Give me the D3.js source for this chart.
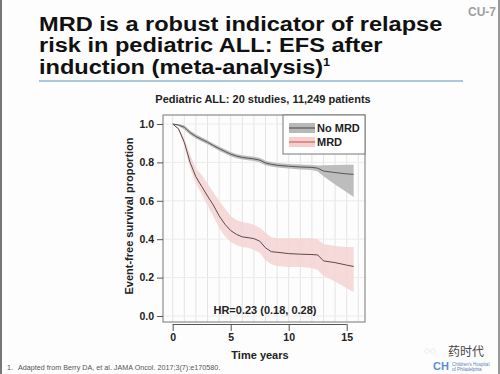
<!DOCTYPE html>
<html>
<head>
<meta charset="utf-8">
<script src="https://cdn.jsdelivr.net/npm/d3@7"></script>
<style>
  html, body { margin: 0; padding: 0; background: #fdfdfd; }
  svg { display: block; font-family: "Liberation Sans", Arial, sans-serif; }
</style>
</head>
<body>
<svg id="chart" width="500" height="374"></svg>
<script>
// time points (years) and survival estimates
const years    = [0, 0.5, 1, 1.5, 2, 2.5, 3, 3.5, 4, 4.5, 5, 5.5, 6, 6.5, 7, 7.5, 8, 8.5, 9, 10, 11, 12, 12.5, 13, 14, 15, 15.6];
const noMrd    = [1.0, 0.995, 0.983, 0.955, 0.935, 0.92, 0.905, 0.888, 0.872, 0.857, 0.843, 0.833, 0.826, 0.822, 0.818, 0.812, 0.797, 0.79, 0.785, 0.78, 0.776, 0.774, 0.77, 0.755, 0.747, 0.74, 0.738];
const noMrdHi  = [1.0, 0.999, 0.993, 0.966, 0.946, 0.931, 0.916, 0.899, 0.883, 0.868, 0.854, 0.844, 0.837, 0.833, 0.829, 0.824, 0.809, 0.802, 0.797, 0.792, 0.789, 0.787, 0.784, 0.785, 0.786, 0.788, 0.788];
const noMrdLo  = [1.0, 0.99, 0.972, 0.944, 0.924, 0.909, 0.894, 0.877, 0.861, 0.846, 0.832, 0.822, 0.815, 0.811, 0.807, 0.8, 0.785, 0.778, 0.773, 0.768, 0.763, 0.76, 0.752, 0.728, 0.685, 0.645, 0.62];
const mrd      = [1.0, 0.975, 0.905, 0.8, 0.725, 0.675, 0.625, 0.578, 0.522, 0.478, 0.445, 0.425, 0.412, 0.408, 0.403, 0.39, 0.355, 0.335, 0.332, 0.325, 0.322, 0.32, 0.318, 0.287, 0.278, 0.265, 0.258];
const mrdHi    = [1.0, 0.98, 0.925, 0.84, 0.77, 0.735, 0.69, 0.645, 0.6, 0.56, 0.52, 0.5, 0.49, 0.485, 0.475, 0.46, 0.435, 0.41, 0.405, 0.405, 0.405, 0.405, 0.4, 0.375, 0.365, 0.36, 0.36];
const mrdLo    = [1.0, 0.97, 0.885, 0.77, 0.69, 0.635, 0.575, 0.52, 0.46, 0.415, 0.385, 0.37, 0.36, 0.355, 0.345, 0.33, 0.29, 0.27, 0.26, 0.255, 0.255, 0.25, 0.24, 0.21, 0.18, 0.145, 0.125];
const xTicks   = [0, 5, 10, 15];
const yTicks   = [0, 0.2, 0.4, 0.6, 0.8, 1.0];
const gridYears = d3.range(0, 17);
const legendLabels = ["No MRD", "MRD"];

const svg = d3.select("#chart");

// slide frame
svg.append("line").attr("x1", 1).attr("x2", 1).attr("y1", 0).attr("y2", 374).attr("stroke", "#777").attr("stroke-width", 2);
svg.append("line").attr("x1", 499).attr("x2", 499).attr("y1", 0).attr("y2", 374).attr("stroke", "#999").attr("stroke-width", 2);

// title block (slide font is wider than Arial, so stretch it a bit)
svg.append("text").attr("x", 496).attr("y", 16).attr("text-anchor", "end")
  .attr("font-size", 12).attr("font-weight", "bold").attr("fill", "#a0a0a0").text("CU-7");

const title = svg.append("text").attr("transform", "translate(39,0) scale(1.15,1)")
  .attr("font-size", 20.5).attr("font-weight", "bold").attr("fill", "#111");
["MRD is a robust indicator of relapse", "risk in pediatric ALL: EFS after"].forEach((t, i) => {
  title.append("tspan").attr("x", 0).attr("y", 31 + i * 21.5).text(t);
});
title.append("tspan").attr("x", 0).attr("y", 74).text("induction (meta-analysis)");
title.append("tspan").attr("dy", -8).attr("font-size", 11).text("1");

svg.append("line").attr("x1", 39).attr("x2", 463).attr("y1", 81).attr("y2", 81)
  .attr("stroke", "#5a8fc4").attr("stroke-width", 1.2);

svg.append("text").attr("x", 263).attr("y", 103).attr("text-anchor", "middle")
  .attr("font-size", 11).attr("font-weight", "bold").attr("fill", "#222")
  .text("Pediatric ALL: 20 studies, 11,249 patients");

// plot area
const box = { left: 163, right: 365, top: 115, bottom: 322 };
const x = d3.scaleLinear().domain([0, 15]).range([172.7, 346.7]);
const y = d3.scaleLinear().domain([0, 1]).range([316, 124]);

const g = svg.append("g");

// grid
g.selectAll(".vgrid").data(gridYears).join("line")
  .attr("x1", d => x(d)).attr("x2", d => x(d))
  .attr("y1", box.top).attr("y2", box.bottom)
  .attr("stroke", "#e4e4e4").attr("stroke-width", 1);
g.selectAll(".hgrid").data(yTicks).join("line")
  .attr("x1", box.left).attr("x2", box.right)
  .attr("y1", d => y(d)).attr("y2", d => y(d))
  .attr("stroke", "#ececec").attr("stroke-width", 1);

const pts = (lo, hi) => years.map((t, i) => ({ t, lo: lo[i], hi: hi[i] }));
const area = d3.area().x(d => x(d.t)).y0(d => y(d.lo)).y1(d => y(d.hi));
const line = d3.line().x((d, i) => x(years[i])).y(d => y(d));

g.append("path").datum(pts(mrdLo, mrdHi)).attr("d", area).attr("fill", "#f5d3d3").attr("opacity", 0.85);
g.append("path").datum(pts(noMrdLo, noMrdHi)).attr("d", area).attr("fill", "#bdbdbd");
g.append("path").datum(mrd).attr("d", line).attr("fill", "none").attr("stroke", "#5a4a4a").attr("stroke-width", 1);
g.append("path").datum(noMrd).attr("d", line).attr("fill", "none").attr("stroke", "#555").attr("stroke-width", 1);

// box
g.append("rect").attr("x", box.left).attr("y", box.top)
  .attr("width", box.right - box.left).attr("height", box.bottom - box.top)
  .attr("fill", "none").attr("stroke", "#777").attr("stroke-width", 1);

// axes
const yAxis = d3.axisLeft(y).tickValues(yTicks).tickFormat(d3.format(".1f")).tickSize(6).tickPadding(3);
const ya = svg.append("g").attr("transform", `translate(${box.left},0)`).call(yAxis);
ya.select(".domain").remove();

const xAxis = d3.axisBottom(x).tickValues(xTicks).tickSize(7).tickPadding(3);
const xa = svg.append("g").attr("transform", "translate(0,324)").call(xAxis);
xa.select(".domain").attr("d", `M${x(0)},0.5H${x(15)}`);

[ya, xa].forEach(a => {
  a.selectAll("line, .domain").attr("stroke", "#555");
  a.selectAll("text").attr("font-size", 10.5).attr("font-weight", "bold").attr("fill", "#222")
    .attr("font-family", "Liberation Sans, Arial, sans-serif");
});

svg.append("text").attr("x", 260).attr("y", 359).attr("text-anchor", "middle")
  .attr("font-size", 11).attr("font-weight", "bold").attr("fill", "#222").text("Time years");
svg.append("text").attr("transform", `translate(133,216) rotate(-90)`)
  .attr("text-anchor", "middle").attr("font-size", 11).attr("font-weight", "bold").attr("fill", "#222")
  .text("Event-free survival proportion");

svg.append("text").attr("x", 265).attr("y", 314).attr("text-anchor", "middle")
  .attr("font-size", 11).attr("font-weight", "bold").attr("fill", "#222").text("HR=0.23 (0.18, 0.28)");

// legend
const lg = svg.append("g").attr("transform", "translate(283,115)");
lg.append("rect").attr("width", 82).attr("height", 39).attr("fill", "#fff").attr("stroke", "#777");
const legendFill = ["#b8b8b8", "#f6cccc"];
const legendLine = ["#555", "#c46a6a"];
legendLabels.forEach((lab, i) => {
  const yy = 13 + i * 14;
  lg.append("rect").attr("x", 6).attr("y", yy - 5).attr("width", 26).attr("height", 10).attr("fill", legendFill[i]);
  lg.append("line").attr("x1", 6).attr("x2", 32).attr("y1", yy).attr("y2", yy).attr("stroke", legendLine[i]).attr("stroke-width", 1.2);
  lg.append("text").attr("x", 34).attr("y", yy + 4).attr("font-size", 11).attr("font-weight", "bold").attr("fill", "#222").text(lab);
});

// footnote
svg.append("text").attr("x", 7).attr("y", 370).attr("font-size", 7.2).attr("fill", "#555").text("1.");
svg.append("text").attr("x", 18).attr("y", 370).attr("font-size", 7.2).attr("fill", "#555")
  .text("Adapted from Berry DA, et al. JAMA Oncol. 2017;3(7):e170580.");

// watermark and logo
svg.append("text").attr("x", 424).attr("y", 354).attr("font-size", 10).attr("fill", "#bbb").text("◌◌");
svg.append("text").attr("x", 448).attr("y", 356).attr("font-size", 12).attr("fill", "#444")
  .attr("font-family", "Noto Sans CJK SC").text("药时代");
svg.append("text").attr("x", 433).attr("y", 370).attr("font-size", 11).attr("font-weight", "bold").attr("fill", "#5b8fd0").text("CH");
svg.append("text").attr("x", 452).attr("y", 365.5).attr("font-size", 4.5).attr("fill", "#5b7fb8").text("Children's Hospital");
svg.append("text").attr("x", 452).attr("y", 370.5).attr("font-size", 4.5).attr("fill", "#5b7fb8").text("of Philadelphia");
</script>
</body>
</html>
